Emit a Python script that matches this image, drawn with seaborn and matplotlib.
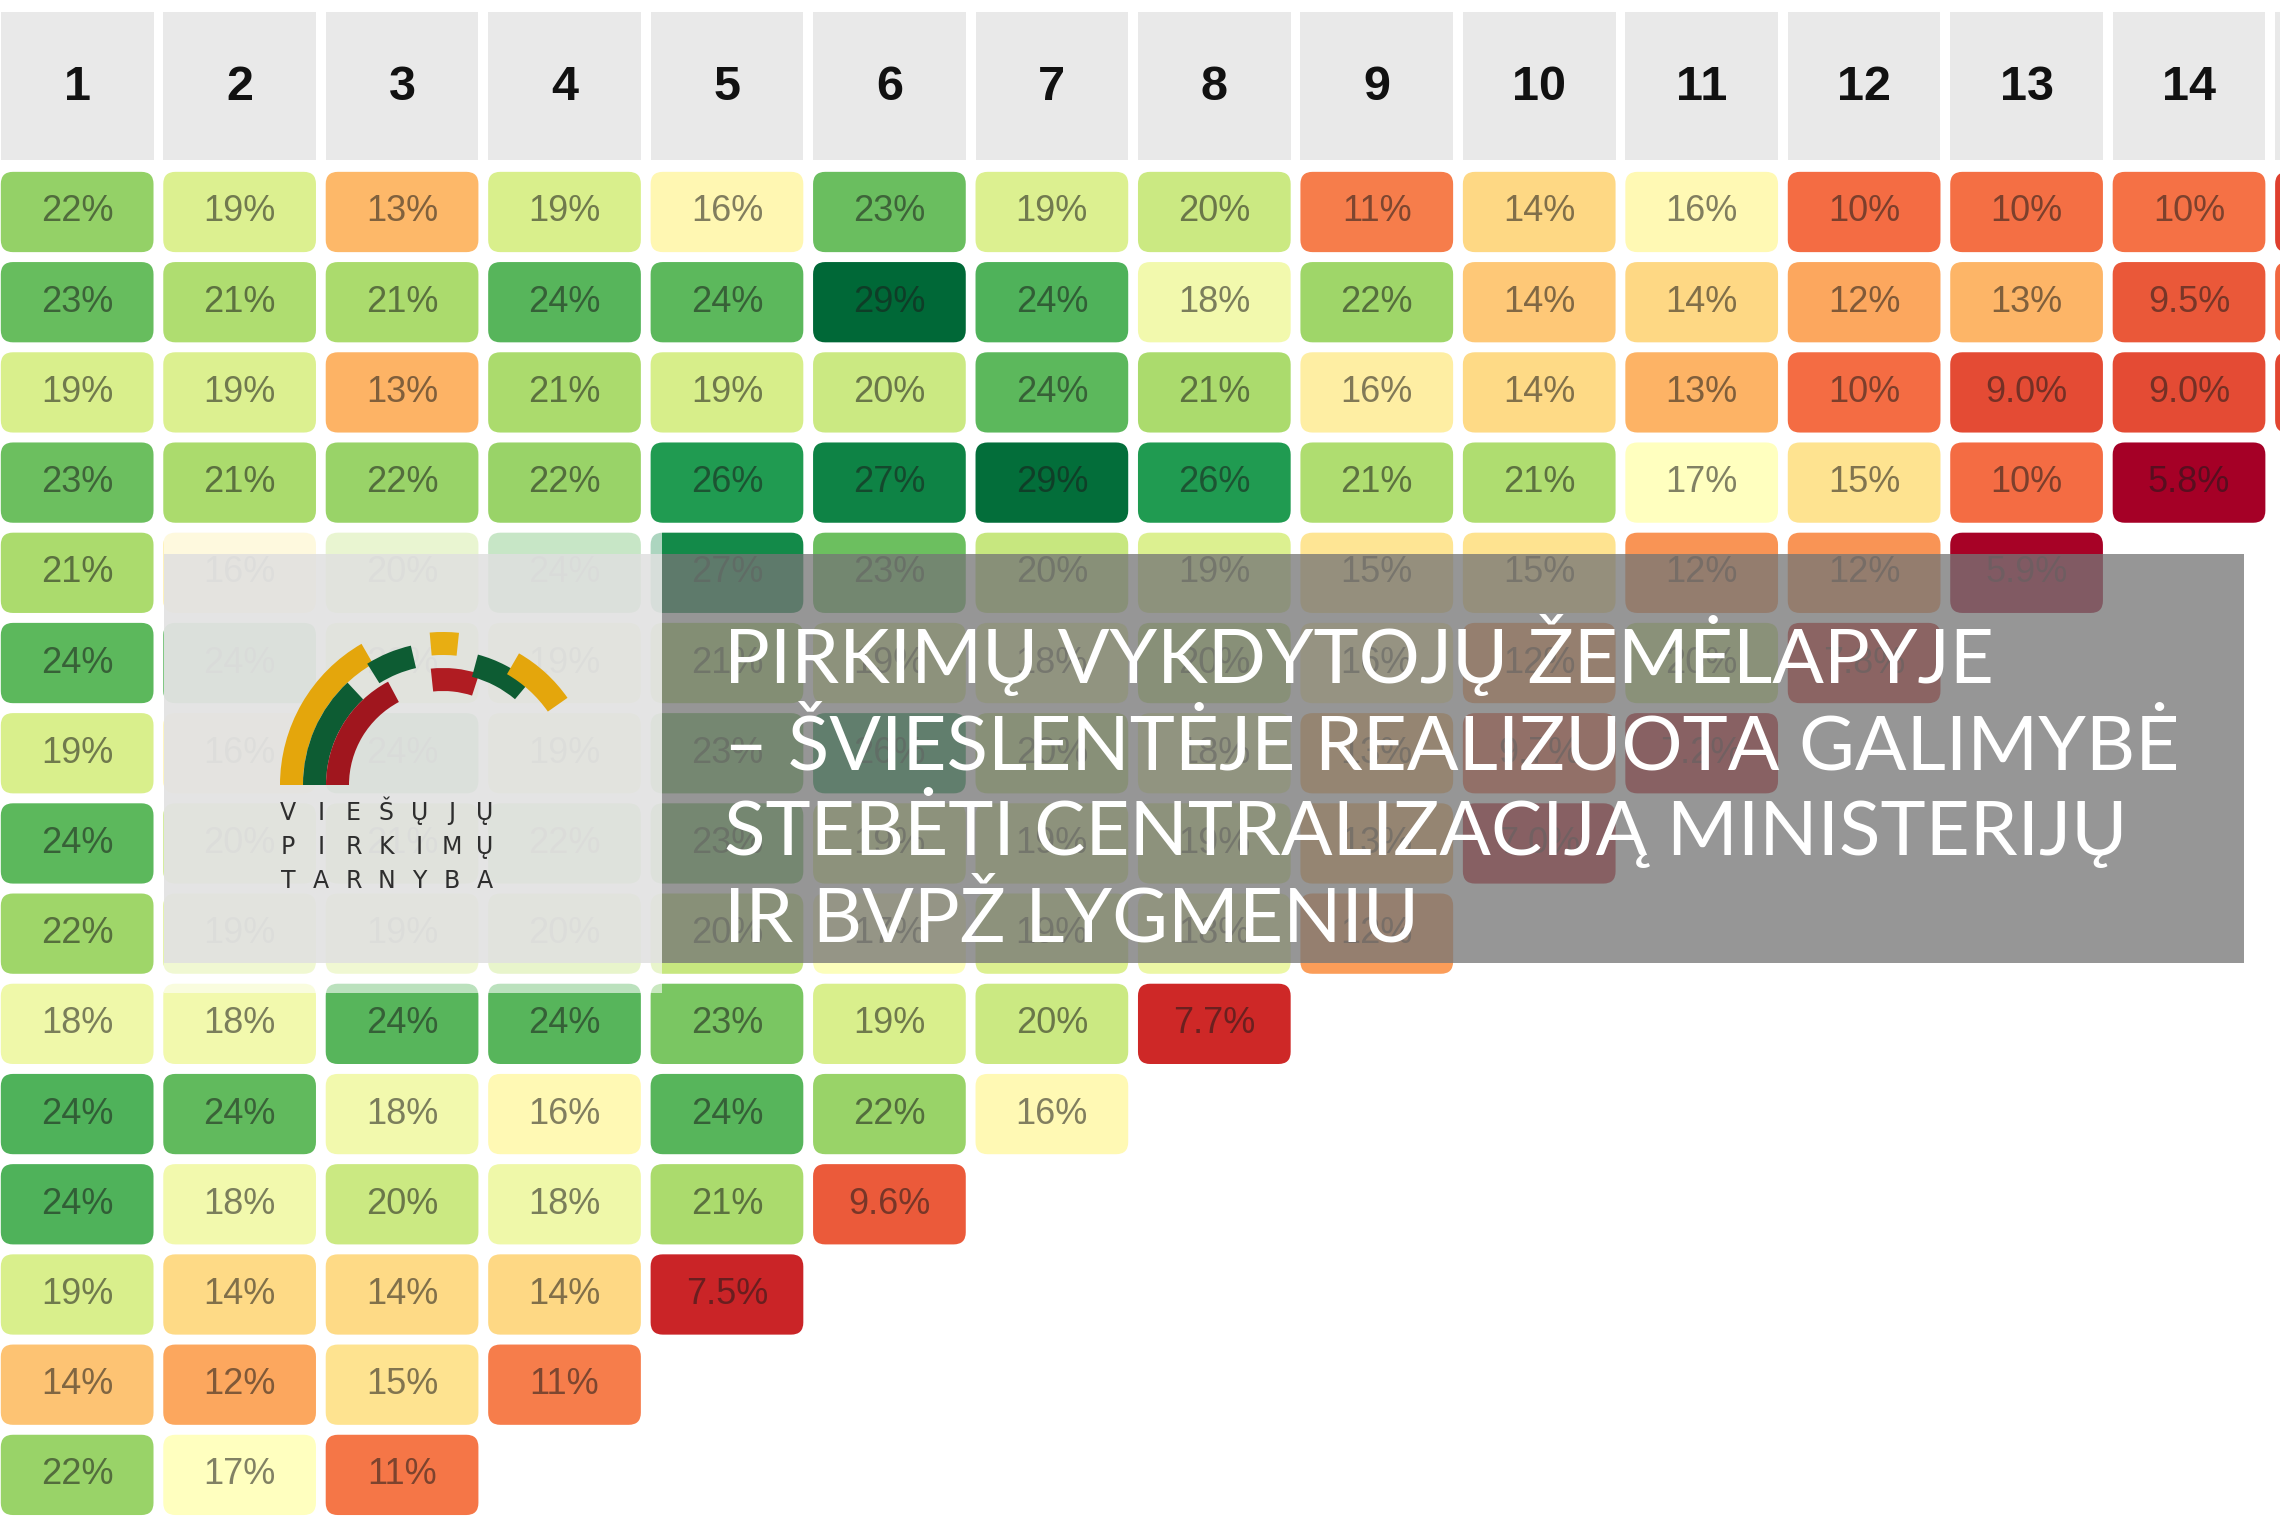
import numpy as np
import pandas as pd
import matplotlib
matplotlib.use("Agg")
import matplotlib.pyplot as plt
import seaborn as sns
from matplotlib.colors import LinearSegmentedColormap
from matplotlib.patches import FancyBboxPatch, Rectangle, Wedge

# column headers (period number)
periods = ["1", "2", "3", "4", "5", "6", "7", "8", "9", "10", "11", "12", "13", "14", "15"]

# share per cohort row, % (estimated under the overlay where hidden)
row_01 = [22.0, 19.0, 13.0, 19.2, 16.3, 23.3, 19.0, 19.8, 10.8, 14.3, 16.4, 10.2, 10.3, 10.4, 8.6]
row_02 = [23.4, 21.0, 21.2, 24.0, 23.8, 29.0, 24.2, 17.6, 21.6, 13.6, 14.3, 12.4, 12.9, 9.5, 10.0]
row_03 = [19.2, 19.0, 12.8, 21.2, 19.3, 19.8, 23.8, 21.2, 15.6, 14.4, 12.8, 10.2, 9.0, 9.0, 8.8]
row_04 = [23.2, 21.2, 21.8, 21.8, 26.0, 27.4, 28.6, 26.0, 21.0, 21.0, 16.8, 14.8, 10.2, 5.8]
row_05 = [21.2, 15.6, 20.2, 23.6, 27.0, 23.2, 20.0, 19.0, 15.0, 14.8, 11.6, 11.6, 5.9]
row_06 = [23.8, 24.0, 20.0, 19.0, 21.0, 19.0, 18.0, 20.0, 16.0, 12.0, 19.6, 7.8]
row_07 = [19.2, 16.0, 24.0, 19.0, 23.0, 26.0, 20.0, 18.0, 13.0, 9.7, 7.2]
row_08 = [23.8, 20.0, 21.0, 22.0, 23.0, 19.0, 19.0, 19.0, 13.0, 7.0]
row_09 = [21.6, 19.0, 19.0, 20.0, 20.0, 17.0, 19.0, 18.0, 12.0]
row_10 = [17.8, 17.6, 24.0, 24.0, 22.8, 19.2, 19.8, 7.7]
row_11 = [24.2, 23.6, 17.6, 16.4, 24.0, 21.8, 16.4]
row_12 = [24.2, 17.6, 19.8, 17.8, 21.2, 9.6]
row_13 = [19.2, 14.4, 14.4, 14.3, 7.5]
row_14 = [13.5, 12.4, 14.8, 10.8]
row_15 = [21.8, 16.8, 10.6]

rows = [row_01, row_02, row_03, row_04, row_05, row_06, row_07, row_08,
        row_09, row_10, row_11, row_12, row_13, row_14, row_15]

title_lines = ["PIRKIMŲ VYKDYTOJŲ ŽEMĖLAPYJE",
               "– ŠVIESLENTĖJE REALIZUOTA GALIMYBĖ",
               "STEBĖTI CENTRALIZACIJĄ MINISTERIJŲ",
               "IR BVPŽ LYGMENIU"]
logo_lines = ["VIEŠŲJŲ", "PIRKIMŲ", "TARNYBA"]

n_shown = 14  # columns whose labels fall inside the picture

df = pd.DataFrame([r + [np.nan] * (len(periods) - len(r)) for r in rows], columns=periods)
labels = df.map(lambda v: "" if np.isnan(v) else (f"{v:.0f}%" if v >= 9.95 else f"{v:.1f}%"))
labels.iloc[:, n_shown:] = ""

vmin, vmax = 5.8, 29.0
anchors = [(5.8, "#a50026"), (8.0, "#d73027"), (10.2, "#f46d43"), (12.6, "#fdae61"),
           (14.6, "#fee08b"), (16.8, "#ffffbf"), (19.2, "#d9ef8b"), (21.4, "#a6d96a"),
           (23.8, "#5cb85c"), (26.2, "#1a9850"), (29.0, "#006837")]
cmap = LinearSegmentedColormap.from_list(
    "rdylgn_custom", [((v - vmin) / (vmax - vmin), c) for v, c in anchors])

sans = ["Liberation Sans", "DejaVu Sans"]

W, H = 2280, 1520
fig = plt.figure(figsize=(W / 100, H / 100), dpi=100)
ax = fig.add_axes([0, 0, 1, 1])

sns.heatmap(df, mask=df.isna(), cmap=cmap, vmin=vmin, vmax=vmax, annot=labels, fmt="",
            cbar=False, xticklabels=False, yticklabels=False, ax=ax,
            annot_kws=dict(fontsize=26, color="#1a1a1a", alpha=0.55, family=sans))
mesh = ax.collections[0]
mesh.set_visible(False)

# rounded tiles coloured through the heatmap's own colour scale
aspect = 162.4 / 90.2
for i in range(df.shape[0]):
    for j in range(df.shape[1]):
        v = df.iat[i, j]
        if np.isnan(v):
            continue
        ax.add_patch(FancyBboxPatch((j + 0.03, i + 0.055), 0.94, 0.89,
                                    boxstyle="round,pad=0,rounding_size=0.075",
                                    mutation_aspect=aspect, fc=mesh.to_rgba(v),
                                    ec="none", zorder=1))

# header row
for j, lab in enumerate(periods):
    ax.add_patch(Rectangle((j + 0.03, -1.717), 0.94, 1.64, fc="#e9e9e9", ec="none", zorder=1))
    if j < n_shown:
        ax.text(j + 0.5, -0.88, lab, ha="center", va="center", fontsize=35,
                fontweight="bold", color="#111111", family=sans)

ax.set_xlim(0.025, 14.06)
ax.set_ylim(15.0, -1.85)
ax.set_axis_off()

# overlay banner (pixel coordinates)
ov = fig.add_axes([0, 0, 1, 1], zorder=5)
ov.set_xlim(0, W)
ov.set_ylim(H, 0)
ov.set_axis_off()
ov.patch.set_alpha(0)

ov.add_patch(Rectangle((164, 526), 498, 28, fc="white", ec="none", alpha=0.65))
ov.add_patch(Rectangle((164, 963), 498, 30, fc="white", ec="none", alpha=0.6))
ov.add_patch(Rectangle((164, 554), 498, 409, fc="#e3e3e3", ec="none", alpha=0.95))
ov.add_patch(Rectangle((662, 554), 1582, 409, fc="#767676", ec="none", alpha=0.77))

for k, line in enumerate(title_lines):
    ov.text(724, 683 + 86 * k, line, ha="left", va="baseline", fontsize=55,
            color="white", family=["Lato", "DejaVu Sans"])

# logo: arcs in flag colours
cx, cy = 443, 785
pieces = [(120, 180, 140, 163, "#e4a60c"), (133, 180, 117, 140, "#0d5c33"),
          (118, 180, 94, 117, "#a0161e"), (103, 122, 120, 143, "#0d5c33"),
          (84, 95, 130, 153, "#e8ae12"), (72, 96, 94, 117, "#b01c22"),
          (50, 75, 112, 135, "#0d5c33"), (35, 60, 128, 152, "#e4a60c")]
for a1, a2, r_in, r_out, col in pieces:
    ov.add_patch(Wedge((cx, cy), r_out, -a2, -a1, width=r_out - r_in, fc=col, ec="none"))

for k, word in enumerate(logo_lines):
    for c, ch in enumerate(word):
        ov.text(288 + 32.8 * c, 820 + 34 * k, ch, ha="center", va="baseline", fontsize=17,
                color="#2e2e2e", family=["DejaVu Sans"])

fig.savefig("out.png", dpi=100)
